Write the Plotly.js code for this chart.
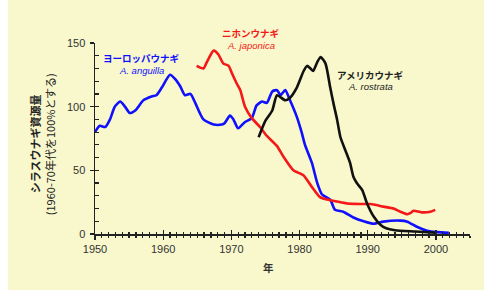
<!DOCTYPE html>
<html><head><meta charset="utf-8">
<script src="https://cdn.plot.ly/plotly-3.0.1.min.js"></script>
<style>
html,body{margin:0;padding:0;background:#ffffff;}
#chart{position:absolute;left:8px;top:0;width:476px;height:290px;}
</style></head>
<body><div id="chart"></div>
<script>
// European eel (A. anguilla)
const blueYears = [1950,1950.7,1951.5,1952.2,1952.9,1953.7,1954.4,1955.1,1955.9,1957.1,1958.3,1959.0,1959.8,1961.0,1961.7,1962.5,1963.2,1964.0,1964.7,1965.9,1967.4,1968.6,1969.0,1969.8,1970.3,1971.0,1972.0,1973.0,1973.7,1974.5,1975.2,1976.0,1976.7,1977.2,1977.9,1978.6,1979.6,1980.3,1980.8,1981.8,1982.6,1983.3,1984.5,1985.2,1986.4,1987.9,1989.4,1990.9,1992.3,1994.8,1995.8,1997.2,1998.7,2000.2,2001.9];
const blueVals  = [80,85,84,90,100,104,100,95,97,105,108,109,115,125,122,116,109,110,103,90,86,86,87,93,90,83,88,91,101,104,103,112,113,109,113,105,92,80,70,56,40,31,27,19,17.5,13,10,8,9.7,10.5,9.7,5.7,2.6,1.5,1];
// Japanese eel (A. japonica)
const redYears = [1964.9,1965.9,1966.4,1967.4,1968.1,1968.8,1969.6,1970.1,1970.8,1971.3,1972.0,1973.0,1974.2,1975.2,1976.7,1977.6,1979.1,1980.6,1981.8,1983.0,1984.5,1986.0,1987.0,1988.9,1990.4,1992.3,1993.8,1994.8,1995.8,1996.3,1996.7,1997.9,1999.2,1999.9];
const redVals  = [132,130,135,144,141,134,132,126,118,113,100,91,84,77,69,61,50,46,37,29,26.5,25,24,23.6,23.5,21.5,20,17.5,15.5,16.5,18.3,17,17.5,19];
// American eel (A. rostrata)
const blackYears = [1974.0,1975.0,1976.0,1976.7,1977.9,1978.6,1979.6,1980.6,1981.1,1981.6,1982.0,1982.6,1983.1,1983.8,1984.5,1985.0,1985.5,1986.0,1986.7,1987.4,1987.9,1988.4,1989.2,1989.9,1990.9,1991.9,1992.7,1994.0,1997.0,2000.0];
const blackVals  = [76,89,97,109,105,107,115,128,132,130,128,135,139,134,115,102,90,76,66,56,45,40,34.5,24,13.5,7,4.5,3,2,1];

const xTickVals = [1950,1960,1970,1980,1990,2000];
const yTickVals = [0,50,100,150];

const BG = '#f8f8cc';
const FONT = 'Liberation Sans, Arial, Noto Sans CJK JP, sans-serif';
const JFONT = 'Noto Sans CJK JP, Liberation Sans, sans-serif';

function tr(x,y,c){return {x:x,y:y,type:'scatter',mode:'lines',line:{color:c,width:2.6,shape:'spline',smoothing:0.6},cliponaxis:false,hoverinfo:'skip',showlegend:false};}
const data = [tr(blueYears,blueVals,'#1010ff'), tr(redYears,redVals,'#f41818'), tr(blackYears,blackVals,'#111111')];

const axCommon = {showgrid:false,zeroline:false,showline:true,linecolor:'#222',linewidth:1.5,tickcolor:'#222',tickwidth:1.3};
function pv(v){return v/150;}
const layout = {
  width:476,height:290,
  margin:{l:87,r:14,t:43,b:56},
  paper_bgcolor:BG,plot_bgcolor:BG,
  font:{family:FONT,color:'#333'},
  xaxis:Object.assign({},axCommon,{range:[1950,2005],tickvals:xTickVals,ticks:'outside',ticklen:4,
     minor:{dtick:1,tick0:1950,ticks:'outside',ticklen:2,tickcolor:'#222',tickwidth:1.2},
     tickfont:{size:11,color:'#333',family:FONT}}),
  yaxis:Object.assign({},axCommon,{range:[0,150],tickvals:yTickVals,ticks:'outside',ticklen:4,ticklabelstandoff:2,
     tickfont:{size:11,color:'#333',family:FONT}}),
  xaxis2:{overlaying:'x',anchor:'y',range:[1950,2005],showgrid:false,zeroline:false,showline:false,showticklabels:false,
     tickvals:xTickVals,ticks:'inside',ticklen:4,tickcolor:'#222',tickwidth:1.3,
     minor:{dtick:1,tick0:1950,ticks:'inside',ticklen:2,tickcolor:'#222',tickwidth:1.2}},
  yaxis2:{overlaying:'y',anchor:'x',range:[0,150],showgrid:false,zeroline:false,showline:false,showticklabels:false,
     tickvals:yTickVals,ticks:'inside',ticklen:4,tickcolor:'#222',tickwidth:1.3,
     minor:{dtick:10,tick0:0,ticks:'inside',ticklen:4,tickcolor:'#222',tickwidth:1.2}},
  annotations:[
    {x:1956.75,y:pv(138),xref:'x',yref:'paper',xanchor:'center',yanchor:'middle',text:'<b>ヨーロッパウナギ</b>',showarrow:false,font:{family:JFONT,size:9.5,color:'#1010ff'}},
    {x:1956.75,y:pv(128.5),xref:'x',yref:'paper',xanchor:'center',yanchor:'middle',text:'<i>A. anguilla</i>',showarrow:false,font:{family:FONT,size:9.5,color:'#1010ff'}},
    {x:1972.9,y:pv(158),xref:'x',yref:'paper',xanchor:'center',yanchor:'middle',text:'<b>ニホンウナギ</b>',showarrow:false,font:{family:JFONT,size:9.5,color:'#f41818'}},
    {x:1972.9,y:pv(148),xref:'x',yref:'paper',xanchor:'center',yanchor:'middle',text:'<i>A. japonica</i>',showarrow:false,font:{family:FONT,size:9.5,color:'#f41818'}},
    {x:1990.4,y:pv(125),xref:'x',yref:'paper',xanchor:'center',yanchor:'middle',text:'<b>アメリカウナギ</b>',showarrow:false,font:{family:JFONT,size:9.5,color:'#222'}},
    {x:1990.4,y:pv(115.5),xref:'x',yref:'paper',xanchor:'center',yanchor:'middle',text:'<i>A. rostrata</i>',showarrow:false,font:{family:FONT,size:9.5,color:'#222'}},
    {x:0,y:0.47,xref:'paper',yref:'paper',xanchor:'center',yanchor:'middle',xshift:-60,textangle:-90,text:'<b>シラスウナギ資源量</b>',showarrow:false,font:{family:JFONT,size:11,color:'#222'}},
    {x:0,y:0.47,xref:'paper',yref:'paper',xanchor:'center',yanchor:'middle',xshift:-45,textangle:-90,text:'(1960-70年代を100%とする)',showarrow:false,font:{family:JFONT,size:11,color:'#222'}},
    {x:1975.4,y:0,xref:'x',yref:'paper',xanchor:'center',yanchor:'middle',yshift:-33,text:'<b>年</b>',showarrow:false,font:{family:JFONT,size:10.5,color:'#333'}}
  ]
};
data.push({x:[1950],y:[0],xaxis:'x2',yaxis:'y2',mode:'markers',marker:{opacity:0},hoverinfo:'skip',showlegend:false});
Plotly.newPlot('chart',data,layout,{staticPlot:true,displayModeBar:false});
</script></body></html>
